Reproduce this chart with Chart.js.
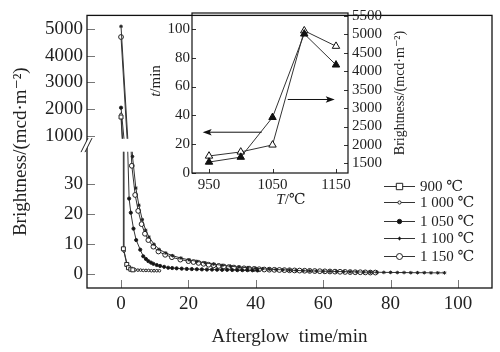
<!DOCTYPE html>
<html>
<head>
<meta charset="utf-8">
<script src="https://cdn.jsdelivr.net/npm/chart.js@4/dist/chart.umd.min.js"></script>
<style>
  html, body { margin: 0; padding: 0; background: #fff; }
  #wrap { position: relative; width: 500px; height: 352px; }
  #main { position: absolute; left: 0; top: 0; }
  #inset { position: absolute; left: 140px; top: 0; }
</style>
</head>
<body>
<div id="wrap">
  <canvas id="main" width="500" height="352" style="width:500px;height:352px"></canvas>
  <canvas id="inset" width="270" height="210" style="width:270px;height:210px"></canvas>
</div>
<script>
const FONT = "'Liberation Serif', 'DejaVu Serif', serif";

// afterglow decay: time (min) / brightness (mcd/m2)
const t900 = [0, 0.7, 1.7, 2.2, 2.9, 3.5];
const b900 = [1700, 8.3, 3.1, 2.0, 1.5, 1.3];

const t1000 = [0, 0.9, 1.8, 2.6, 3.4, 4.2, 5.0, 5.8, 6.6, 7.4, 8.2, 9.0, 9.8, 10.6, 11.4];
const b1000 = [1800, 7.5, 3.2, 2.0, 1.5, 1.3, 1.2, 1.2, 1.1, 1.1, 1.1, 1.0, 1.0, 1.0, 1.0];

const t1050 = [0, 1.5, 2.4, 2.9, 3.7, 4.5, 5.7, 6.6, 7.4, 8.1, 8.9, 9.6, 10.6, 11.6, 12.8, 14, 15.2, 16.5,
  18, 19.5, 21, 22.5, 24, 25.5, 27, 28.5, 30, 31.5, 33, 34.5, 36, 37.5, 39, 40.5];
const b1050 = [2050, 60, 25, 20.3, 15, 11.2, 8, 5.8, 4.9, 4.2, 3.7, 3.3, 2.9, 2.6, 2.3, 2.0, 1.9, 1.8,
  1.7, 1.6, 1.55, 1.5, 1.45, 1.4, 1.4, 1.35, 1.3, 1.3, 1.25, 1.2, 1.2, 1.2, 1.15, 1.1];

const t1100 = [0, 2.4, 3.4, 4.4, 5.3, 6.3, 7.3, 8.3, 9.8, 11.3, 13.3, 15.3, 17.8, 20.2, 22.5, 25, 27.5, 30,
  32.5, 35, 37.5, 40, 42, 44, 46, 48, 50, 52, 54, 56, 58, 60, 62, 64, 66, 68, 70, 72, 74, 76, 78, 80, 82, 84,
  86, 88, 90, 92, 94, 96];
const b1100 = [5100, 65, 39, 28.5, 22.8, 18, 14.5, 12.2, 9.8, 8.1, 6.9, 6.0, 5.2, 4.6, 4.1, 3.6, 3.2, 2.8,
  2.5, 2.2, 2.0, 1.8, 1.65, 1.5, 1.4, 1.3, 1.2, 1.1, 1.0, 0.95, 0.9, 0.85, 0.8, 0.75, 0.7, 0.65, 0.6, 0.55,
  0.5, 0.5, 0.45, 0.45, 0.4, 0.4, 0.35, 0.35, 0.35, 0.3, 0.3, 0.3];

const t1150 = [0, 2.2, 3.2, 4.2, 5.1, 6.1, 7.1, 8.1, 9.6, 11.1, 13.1, 15.1, 17.6, 20, 21.5, 23, 24.5, 26,
  27.5, 29, 30.5, 32, 33.5, 35, 36.5, 38, 39.5, 41, 42.5, 44, 45.5, 47, 48.5, 50, 51.5, 53, 54.5, 56, 57.5,
  59, 60.5, 62, 63.5, 65, 66.5, 68, 69.5, 71, 72.5, 74, 75.5];
const b1150 = [4700, 60, 35.9, 26.2, 20.9, 16.5, 13.3, 11.2, 9.0, 7.4, 6.3, 5.5, 4.7, 4.2, 3.9, 3.6, 3.3, 3.0,
  2.8, 2.6, 2.4, 2.2, 2.05, 1.9, 1.8, 1.7, 1.6, 1.5, 1.4, 1.35, 1.3, 1.25, 1.2, 1.15, 1.1, 1.05, 1.0, 0.95,
  0.9, 0.85, 0.8, 0.75, 0.7, 0.65, 0.6, 0.55, 0.5, 0.5, 0.45, 0.4, 0.4];

const seriesLabels = ['900 ℃', '1 000 ℃', '1 050 ℃', '1 100 ℃', '1 150 ℃'];

const xTicks = [0, 20, 40, 60, 80, 100];
const lowTicks = [0, 10, 20, 30];
const highTicks = [1000, 2000, 3000, 4000, 5000];

// inset: sintering temperature vs afterglow time / initial brightness
const insetTemps = [950, 1000, 1050, 1100, 1150];
const insetTime = [7.6, 11, 38.6, 96.5, 75];
const insetBright = [1700, 1810, 2000, 5100, 4680];
const insetXTicks = [950, 1050, 1150];
const insetTimeTicks = [0, 20, 40, 60, 80, 100];
const insetBrightTicks = [1500, 2000, 2500, 3000, 3500, 4000, 4500, 5000, 5500];

// axis ranges (broken y axis = two overlaid scales)
const X_MIN = -10.1, X_MAX = 110.1;
const LOW_MIN = -4.74, LOW_MAX = 85.9;
const HIGH_MIN = -4709, HIGH_MAX = 5509;
const LOW_CUT = 40.6, HIGH_CUT = 890;

const highToLow = v => LOW_MIN + (v - HIGH_MIN) * (LOW_MAX - LOW_MIN) / (HIGH_MAX - HIGH_MIN);

const markers = [
  { pointStyle: 'rect', radius: 2.8, fill: '#fff' },
  { pointStyle: 'circle', radius: 1.3, fill: '#fff' },
  { pointStyle: 'circle', radius: 1.6, fill: '#111' },
  { pointStyle: 'star', radius: 1.8, fill: '#111' },
  { pointStyle: 'circle', radius: 2.4, fill: '#fff' }
];

const series = [[t900, b900], [t1000, b1000], [t1050, b1050], [t1100, b1100], [t1150, b1150]];
const datasets = [];
series.forEach(([t, b], i) => {
  ['yHigh', 'y'].forEach(axis => {
    datasets.push({
      label: seriesLabels[i],
      yAxisID: axis,
      data: t.map((x, k) => ({ x: x, y: b[k] })),
      borderColor: '#333',
      borderWidth: 1,
      pointStyle: markers[i].pointStyle,
      pointRadius: markers[i].radius,
      pointBackgroundColor: markers[i].fill,
      pointBorderColor: '#222',
      pointBorderWidth: 1,
      tension: 0,
      fill: false
    });
  });
});

function drawMarker(ctx, m, x, y, r) {
  ctx.save();
  ctx.fillStyle = m.fill;
  ctx.strokeStyle = '#222';
  ctx.lineWidth = 1;
  ctx.beginPath();
  if (m.pointStyle === 'rect') {
    ctx.rect(x - r, y - r, 2 * r, 2 * r);
  } else if (m.pointStyle === 'star') {
    ctx.moveTo(x - r, y); ctx.lineTo(x + r, y);
    ctx.moveTo(x, y - r); ctx.lineTo(x, y + r);
    ctx.stroke();
    ctx.beginPath();
    ctx.arc(x, y, r * 0.6, 0, Math.PI * 2);
  } else {
    ctx.arc(x, y, r, 0, Math.PI * 2);
  }
  ctx.fill();
  ctx.stroke();
  ctx.restore();
}

const brokenAxis = {
  id: 'brokenAxis',
  beforeDatasetDraw(chart, args) {
    const { ctx, chartArea: a } = chart;
    const ds = chart.data.datasets[args.index];
    let top, bottom;
    if (ds.yAxisID === 'yHigh') {
      top = a.top - 10;
      bottom = chart.scales.yHigh.getPixelForValue(HIGH_CUT);
    } else {
      top = chart.scales.y.getPixelForValue(LOW_CUT);
      bottom = a.bottom + 10;
    }
    ctx.save();
    ctx.beginPath();
    ctx.rect(a.left - 10, top, a.width + 20, bottom - top);
    ctx.clip();
  },
  afterDatasetDraw(chart) {
    chart.ctx.restore();
  },
  afterDraw(chart) {
    const { ctx, chartArea: a, scales } = chart;
    ctx.save();
    // tick marks (inside)
    ctx.strokeStyle = '#777';
    ctx.lineWidth = 1;
    scales.y.ticks.forEach(tk => {
      const py = Math.round(scales.y.getPixelForValue(tk.value)) + 0.5;
      ctx.beginPath(); ctx.moveTo(a.left, py); ctx.lineTo(a.left + 8, py); ctx.stroke();
    });
    scales.x.ticks.forEach(tk => {
      const px = Math.round(scales.x.getPixelForValue(tk.value)) + 0.5;
      ctx.beginPath(); ctx.moveTo(px, a.bottom); ctx.lineTo(px, a.bottom - 8); ctx.stroke();
    });
    // frame
    ctx.strokeStyle = '#111';
    ctx.lineWidth = 1.3;
    ctx.strokeRect(a.left, a.top, a.width, a.height);
    // break marks
    const yb = (scales.yHigh.getPixelForValue(HIGH_CUT) + scales.y.getPixelForValue(LOW_CUT)) / 2;
    ctx.fillStyle = '#fff';
    ctx.beginPath();
    ctx.moveTo(a.left - 6, yb + 7); ctx.lineTo(a.left + 1, yb - 7);
    ctx.lineTo(a.left + 5, yb - 7); ctx.lineTo(a.left - 2, yb + 7);
    ctx.closePath(); ctx.fill();
    ctx.strokeStyle = '#222';
    ctx.lineWidth = 1;
    ctx.beginPath();
    ctx.moveTo(a.left - 6, yb + 7); ctx.lineTo(a.left + 1, yb - 7);
    ctx.moveTo(a.left - 2, yb + 7); ctx.lineTo(a.left + 5, yb - 7);
    ctx.stroke();
    // legend
    const rows = [186, 202, 221, 238, 256];
    const legendSize = [3.2, 1.6, 2.2, 1.8, 3.0];
    ctx.font = '15px ' + FONT;
    ctx.textBaseline = 'middle';
    ctx.textAlign = 'left';
    seriesLabels.forEach((lab, i) => {
      const y = rows[i];
      ctx.strokeStyle = '#333';
      ctx.lineWidth = 1;
      ctx.beginPath(); ctx.moveTo(384, y + 0.5); ctx.lineTo(415, y + 0.5); ctx.stroke();
      drawMarker(ctx, markers[i], 399.5, y + 0.5, legendSize[i]);
      ctx.fillStyle = '#222';
      ctx.fillText(lab, 420, y + 1);
    });
    ctx.restore();
  }
};

new Chart(document.getElementById('main'), {
  type: 'line',
  data: { datasets: datasets },
  options: {
    responsive: false,
    animation: false,
    layout: { padding: { top: 7, right: 8, left: 0, bottom: 0 } },
    plugins: { legend: { display: false }, tooltip: { enabled: false } },
    scales: {
      x: {
        type: 'linear',
        min: X_MIN, max: X_MAX,
        afterBuildTicks: s => { s.ticks = xTicks.map(v => ({ value: v })); },
        afterFit: s => { s.height = 64; },
        grid: { display: false, drawTicks: false },
        border: { display: false },
        ticks: { autoSkip: false, maxRotation: 0, padding: 5, color: '#222', font: { family: FONT, size: 19 },
                 callback: v => String(v) },
        title: { display: true, text: 'Afterglow  time/min', color: '#222',
                 font: { family: FONT, size: 19 }, padding: { top: 0, bottom: 4 } }
      },
      y: {
        type: 'linear',
        position: 'left',
        min: LOW_MIN, max: LOW_MAX,
        afterBuildTicks: s => {
          s.ticks = lowTicks.map(v => ({ value: v })).concat(highTicks.map(v => ({ value: highToLow(v) })));
        },
        afterFit: s => { s.width = 87; },
        grid: { display: false, drawTicks: false },
        border: { display: false },
        ticks: {
          autoSkip: false, padding: 4, color: '#222', font: { family: FONT, size: 19 },
          callback: (v, i) => String(lowTicks.concat(highTicks)[i])
        },
        title: { display: true, text: 'Brightness/(mcd·m⁻²)', color: '#222',
                 font: { family: FONT, size: 19 }, padding: { top: 10, bottom: 0 } }
      },
      yHigh: {
        type: 'linear',
        position: 'left',
        display: false,
        min: HIGH_MIN, max: HIGH_MAX
      }
    }
  },
  plugins: [brokenAxis]
});

// ---------- inset ----------
const arrowTime = { from: 1033, to: 940, y: 28.3 };
const arrowBright = { from: 1074, to: 1148, y: 51 };

function drawArrow(ctx, x1, x2, y) {
  const dir = x2 > x1 ? 1 : -1;
  ctx.beginPath(); ctx.moveTo(x1, y); ctx.lineTo(x2 - dir * 6, y); ctx.stroke();
  ctx.beginPath();
  ctx.moveTo(x2, y);
  ctx.lineTo(x2 - dir * 9, y - 3.2);
  ctx.lineTo(x2 - dir * 7, y);
  ctx.lineTo(x2 - dir * 9, y + 3.2);
  ctx.closePath(); ctx.fill();
}

function mixedText(ctx, parts, x, y) {
  let total = 0;
  parts.forEach(p => { ctx.font = p.font; total += ctx.measureText(p.text).width; });
  let cx = x - total / 2;
  parts.forEach(p => {
    ctx.font = p.font;
    ctx.fillText(p.text, cx, y);
    cx += ctx.measureText(p.text).width;
  });
}

const insetDecor = {
  id: 'insetDecor',
  afterDraw(chart) {
    const { ctx, chartArea: a, scales } = chart;
    ctx.save();
    ctx.strokeStyle = '#333';
    ctx.lineWidth = 1;
    scales.yTime.ticks.forEach(tk => {
      const py = Math.round(scales.yTime.getPixelForValue(tk.value)) + 0.5;
      ctx.beginPath(); ctx.moveTo(a.left, py); ctx.lineTo(a.left + 4, py); ctx.stroke();
    });
    scales.yBright.ticks.forEach(tk => {
      const py = Math.round(scales.yBright.getPixelForValue(tk.value)) + 0.5;
      ctx.beginPath(); ctx.moveTo(a.right, py); ctx.lineTo(a.right - 4, py); ctx.stroke();
    });
    scales.x.ticks.forEach(tk => {
      const px = Math.round(scales.x.getPixelForValue(tk.value)) + 0.5;
      ctx.beginPath(); ctx.moveTo(px, a.bottom); ctx.lineTo(px, a.bottom - 4); ctx.stroke();
    });
    ctx.strokeStyle = '#111';
    ctx.lineWidth = 1.2;
    ctx.strokeRect(a.left, a.top, a.width, a.height);

    // arrows
    ctx.strokeStyle = '#111';
    ctx.fillStyle = '#111';
    ctx.lineWidth = 1;
    const yA = scales.yTime.getPixelForValue(arrowTime.y);
    drawArrow(ctx, scales.x.getPixelForValue(arrowTime.from), scales.x.getPixelForValue(arrowTime.to), yA);
    const yB = scales.yTime.getPixelForValue(arrowBright.y);
    drawArrow(ctx, scales.x.getPixelForValue(arrowBright.from), scales.x.getPixelForValue(arrowBright.to), yB);

    // titles
    ctx.fillStyle = '#222';
    ctx.textBaseline = 'middle';
    ctx.textAlign = 'left';
    mixedText(ctx, [{ text: 'T', font: 'italic 15px ' + FONT }, { text: '/℃', font: '15px ' + FONT }], 151, 200);
    ctx.save();
    ctx.translate(16, 81);
    ctx.rotate(-Math.PI / 2);
    mixedText(ctx, [{ text: 't', font: 'italic 15px ' + FONT }, { text: '/min', font: '15px ' + FONT }], 0, 0);
    ctx.restore();
    ctx.save();
    ctx.translate(260, 93);
    ctx.rotate(-Math.PI / 2);
    mixedText(ctx, [{ text: 'Brightness/(mcd·m⁻²)', font: '14px ' + FONT }], 0, 0);
    ctx.restore();
    ctx.restore();
  }
};

new Chart(document.getElementById('inset'), {
  type: 'line',
  data: {
    datasets: [
      {
        label: 'time',
        yAxisID: 'yTime',
        data: insetTemps.map((x, i) => ({ x: x, y: insetTime[i] })),
        borderColor: '#333', borderWidth: 1,
        pointStyle: 'triangle', pointRadius: 4.3,
        pointBackgroundColor: '#111', pointBorderColor: '#111', pointBorderWidth: 1,
        tension: 0
      },
      {
        label: 'brightness',
        yAxisID: 'yBright',
        data: insetTemps.map((x, i) => ({ x: x, y: insetBright[i] })),
        borderColor: '#333', borderWidth: 1,
        pointStyle: 'triangle', pointRadius: 4.3,
        pointBackgroundColor: '#fff', pointBorderColor: '#111', pointBorderWidth: 1,
        tension: 0
      }
    ]
  },
  options: {
    responsive: false,
    animation: false,
    layout: { padding: { top: 12, right: 0, left: 0, bottom: 0 } },
    plugins: { legend: { display: false }, tooltip: { enabled: false } },
    scales: {
      x: {
        type: 'linear',
        min: 923.2, max: 1168.9,
        afterBuildTicks: s => { s.ticks = insetXTicks.map(v => ({ value: v })); },
        afterFit: s => { s.height = 37; },
        grid: { display: false, drawTicks: false },
        border: { display: false },
        ticks: { autoSkip: false, maxRotation: 0, padding: 3, color: '#222', font: { family: FONT, size: 15 },
                 callback: v => String(v) }
      },
      yTime: {
        type: 'linear',
        position: 'left',
        min: 0, max: 111,
        afterBuildTicks: s => { s.ticks = insetTimeTicks.map(v => ({ value: v })); },
        afterFit: s => { s.width = 52; },
        grid: { display: false, drawTicks: false },
        border: { display: false },
        ticks: { autoSkip: false, padding: 2, color: '#222', font: { family: FONT, size: 15 },
                 callback: v => String(v) }
      },
      yBright: {
        type: 'linear',
        position: 'right',
        min: 1238, max: 5581,
        afterBuildTicks: s => { s.ticks = insetBrightTicks.map(v => ({ value: v })); },
        afterFit: s => { s.width = 62; },
        grid: { display: false, drawTicks: false },
        border: { display: false },
        ticks: { autoSkip: false, padding: 4, color: '#222', font: { family: FONT, size: 15 },
                 callback: v => String(v) }
      }
    }
  },
  plugins: [insetDecor]
});
</script>
</body>
</html>
